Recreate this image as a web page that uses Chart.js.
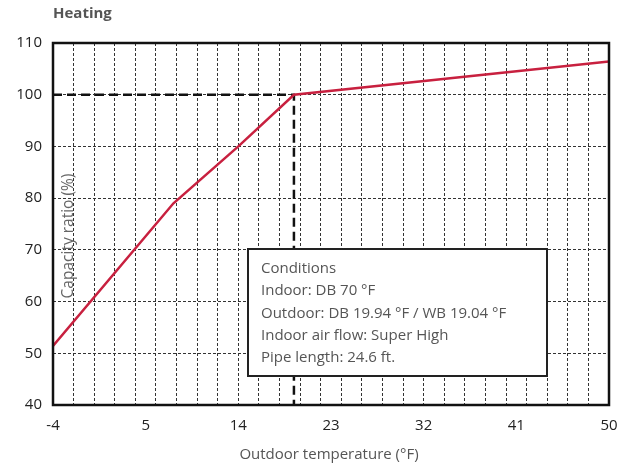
<!DOCTYPE html>
<html>
<head>
<meta charset="utf-8">
<script src="https://cdn.jsdelivr.net/npm/chart.js@4"></script>
<style>
  html, body { margin: 0; padding: 0; background: #fff; }
  #wrap { width: 621px; height: 470px; position: relative; }
</style>
</head>
<body>
<div id="wrap"><canvas id="myChart" width="621" height="470"></canvas></div>
<script>
// curve
const temps = [-4, 7.7, 14, 19.4, 50];
const capacity = [51.4, 79, 90, 100, 106.4];
const xTickLabels = [-4, 5, 14, 23, 32, 41, 50];
const ratedTemp = 19.4;
const ratedCapacity = 100;
const conditions = [
    'Conditions',
    'Indoor: DB 70 °F',
    'Outdoor: DB 19.94 °F / WB 19.04 °F',
    'Indoor air flow: Super High',
    'Pipe length: 24.6 ft.'
];

const FONT = '"Open Sans", "Noto Sans", sans-serif';

const extrasPlugin = {
    id: 'extras',
    afterDatasetsDraw(chart) {
        const { ctx, chartArea: a } = chart;
        ctx.save();
        // frame
        ctx.strokeStyle = '#111';
        ctx.lineWidth = 2.5;
        ctx.strokeRect(a.left, a.top, a.right - a.left, a.bottom - a.top);

        // y title sits inside the plot
        ctx.fillStyle = '#666';
        ctx.font = '15.5px ' + FONT;
        ctx.textAlign = 'center';
        ctx.textBaseline = 'middle';
        ctx.translate(69, 236);
        ctx.rotate(-Math.PI / 2);
        ctx.fillText('Capacity ratio (%)', 0, 0);
        ctx.restore();

        // conditions box
        ctx.save();
        const bx = a.left + 195, by = a.top + 206;
        const bw = 299, bh = 127;
        ctx.fillStyle = '#fff';
        ctx.fillRect(bx, by, bw, bh);
        ctx.strokeStyle = '#222';
        ctx.lineWidth = 2;
        ctx.strokeRect(bx, by, bw, bh);
        ctx.fillStyle = '#555';
        ctx.font = '15px ' + FONT;
        ctx.textBaseline = 'middle';
        conditions.forEach((t, i) => ctx.fillText(t, bx + 13, by + 20 + i * 22.2));
        ctx.restore();

        // titles
        ctx.save();
        ctx.fillStyle = '#555';
        ctx.font = 'bold 15px ' + FONT;
        ctx.textBaseline = 'middle';
        ctx.fillText('Heating', 53, 14);
        ctx.font = '15px ' + FONT;
        ctx.textAlign = 'center';
        ctx.fillText('Outdoor temperature (°F)', 329, 455);
        ctx.restore();
    }
};

new Chart(document.getElementById('myChart'), {
    type: 'scatter',
    data: {
        datasets: [{
            label: 'Capacity',
            data: temps.map((t, i) => ({ x: t, y: capacity[i] })),
            showLine: true,
            borderColor: '#c8203f',
            borderWidth: 2.5,
            pointRadius: 0,
            order: 1
        }, {
            label: 'Rated',
            data: [{ x: -4, y: ratedCapacity }, { x: ratedTemp, y: ratedCapacity }, { x: ratedTemp, y: 40 }],
            showLine: true,
            borderColor: '#111',
            borderWidth: 2.5,
            borderDash: [9, 5],
            pointRadius: 0,
            order: 2
        }]
    },
    options: {
        responsive: false,
        animation: false,
        events: [],
        layout: { padding: { top: 43, right: 12, left: 0, bottom: 0 } },
        plugins: { legend: { display: false }, tooltip: { enabled: false } },
        scales: {
            x: {
                type: 'linear',
                min: -4,
                max: 50,
                afterBuildTicks(scale) {
                    const t = [];
                    for (let v = -4; v <= 50; v++) t.push({ value: v });
                    scale.ticks = t;
                },
                afterFit(scale) {
                    scale.height = 65;
                    scale.paddingRight = 0;
                    scale.paddingLeft = 0;
                },
                border: { display: false, dash: [3, 2] },
                grid: {
                    drawTicks: false,
                    color: c => {
                        const v = c.tick ? c.tick.value : 0;
                        return ((v + 4) % 2 === 0 && v > -4 && v < 50) ? '#333' : 'rgba(0,0,0,0)';
                    },
                    lineWidth: 1
                },
                ticks: {
                    autoSkip: false,
                    maxRotation: 0,
                    padding: 12,
                    color: '#222',
                    font: { family: FONT, size: 15 },
                    callback: v => xTickLabels.includes(v) ? String(v) : ''
                }
            },
            y: {
                min: 40,
                max: 110,
                afterFit(scale) { scale.width = 53; },
                border: { display: false, dash: [3, 2] },
                grid: {
                    drawTicks: false,
                    color: c => (c.tick && c.tick.value > 40 && c.tick.value < 110) ? '#333' : 'rgba(0,0,0,0)',
                    lineWidth: 1
                },
                ticks: {
                    stepSize: 10,
                    padding: 11,
                    color: '#222',
                    font: { family: FONT, size: 15 }
                }
            }
        }
    },
    plugins: [extrasPlugin]
});
</script>
</body>
</html>
